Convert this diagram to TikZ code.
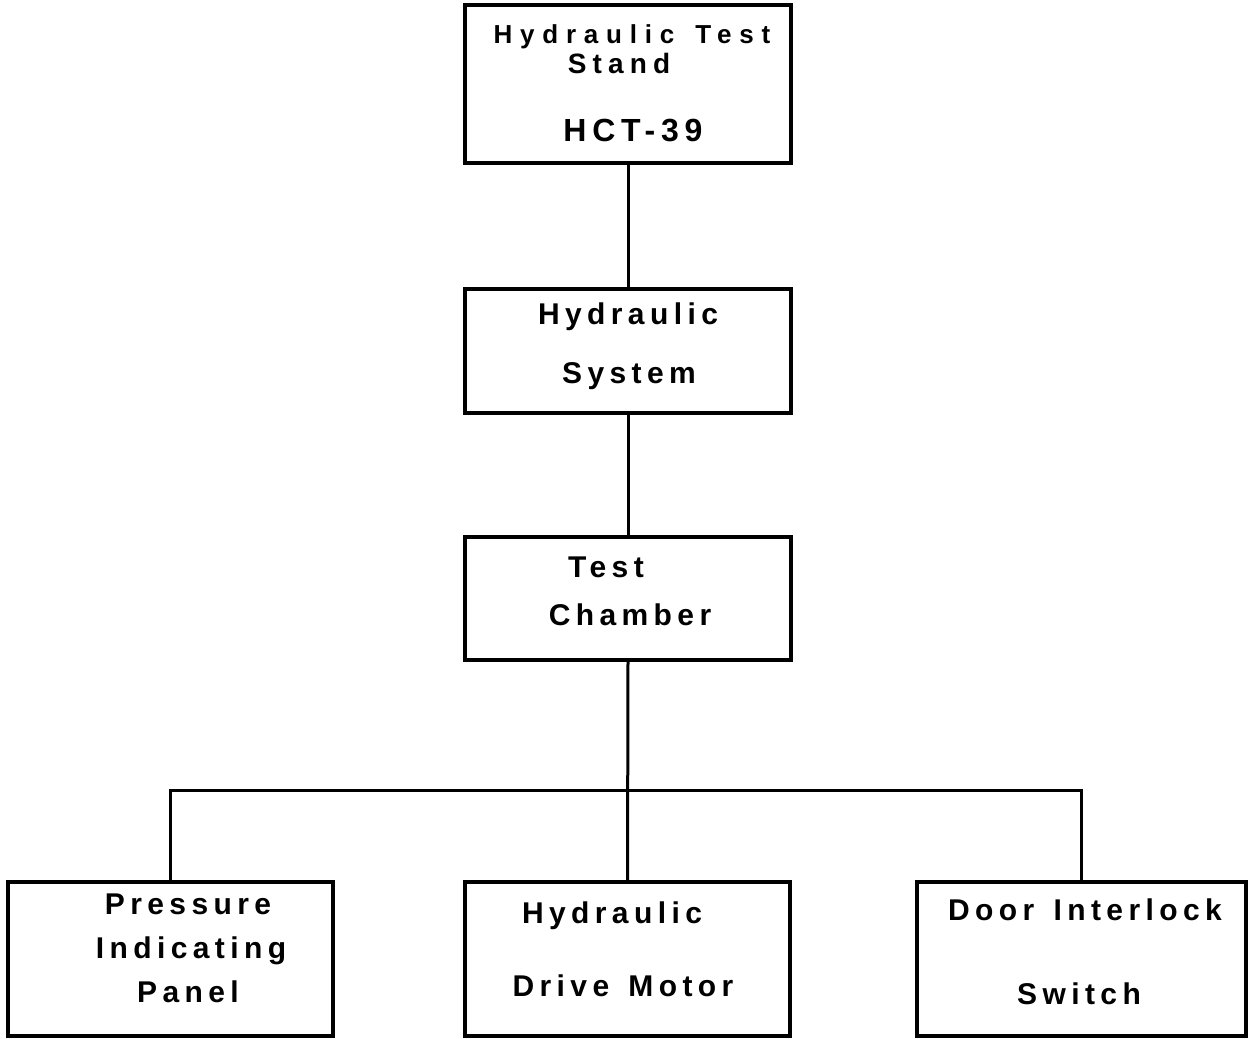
\documentclass[tikz,border=0pt]{standalone}
\usepackage{fontspec}
\setmainfont{Liberation Sans}[LetterSpace=18,WordSpace=1.4]
\begin{document}
\begin{tikzpicture}[x=0.5pt,y=-0.5pt,
  unit/.style={draw=black,line width=1.6pt,minimum width=#1,minimum height=77pt,inner sep=0pt,outer sep=0pt},
  lbl/.style={anchor=base,inner sep=0pt,font=\fontsize{15}{17}\selectfont\bfseries},
  wire/.style={line width=1.5pt}]
  \useasboundingbox (0,0) rectangle (1257,1038);
  % boxes
  \node[unit=163pt,minimum height=79pt] (hts) at (628,84) {};
  \node[unit=163pt,minimum height=62pt] (hs) at (628,351) {};
  \node[unit=163pt,minimum height=61.5pt] (tc) at (628,598.5) {};
  \node[unit=162.5pt] (pip) at (170.5,959) {};
  \node[unit=162.5pt] (hdm) at (627.5,959) {};
  \node[unit=164.5pt] (dis) at (1081.5,959) {};
  % labels
  \node[lbl,font=\fontsize{13}{15}\selectfont\bfseries\addfontfeature{LetterSpace=30}] (t1a) at (632,44) {Hydraulic Test};
  \node[lbl,font=\fontsize{14}{16}\selectfont\bfseries\addfontfeature{LetterSpace=22}] (t1b) at (619,74) {Stand};
  \node[lbl,font=\fontsize{16}{18}\selectfont\bfseries\addfontfeature{LetterSpace=18}] (t1c) at (633,141) {HCT-39};
  \node[lbl] (t2a) at (628,324) {Hydraulic};
  \node[lbl] (t2b) at (629,383) {System};
  \node[lbl] (t3a) at (606,577) {Test};
  \node[lbl] (t3b) at (630,625) {Chamber};
  \node[lbl] (t4a) at (188,914) {Pressure};
  \node[lbl] (t4b) at (191,958) {Indicating};
  \node[lbl] (t4c) at (188,1002) {Panel};
  \node[lbl] (t5a) at (612,923) {Hydraulic};
  \node[lbl] (t5b) at (623,996) {Drive Motor};
  \node[lbl] (t6a) at (1085,920) {Door Interlock};
  \node[lbl] (t6b) at (1079,1004) {Switch};
  % connectors
  \coordinate (bus) at (627,790);
  \draw[wire] (hts.south) -- (hs.north);
  \draw[wire] (hs.south) -- (tc.north);
  \draw[wire] (tc.south) -- (hdm.north);
  \draw[wire] (pip.north) |- (bus) -| (dis.north);
\end{tikzpicture}
\end{document}
